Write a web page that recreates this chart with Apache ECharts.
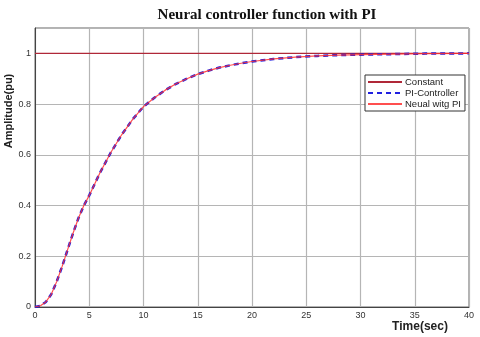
<!DOCTYPE html>
<html><head><meta charset="utf-8">
<script src="https://cdn.jsdelivr.net/npm/echarts@6/dist/echarts.min.js"></script>
<style>html,body{margin:0;padding:0;background:#fff}#c{width:480px;height:337px}</style>
</head><body><div id="c"></div>
<script>
var timeSec = [0,0.5,1,1.5,2,2.5,3,3.5,4,4.5,5,6,7,8,9,10,11,12,13,14,15,16,17,18,19,20,22,24,26,28,30,33,36,40];
var piController = [0,0.005,0.02,0.05,0.1,0.16,0.225,0.29,0.35,0.4,0.44,0.53,0.61,0.68,0.74,0.79,0.825,0.855,0.88,0.9,0.918,0.932,0.944,0.953,0.961,0.968,0.978,0.985,0.99,0.993,0.995,0.997,0.999,1.0];
var neuralPI = [0,0.005,0.02,0.05,0.1,0.16,0.225,0.29,0.35,0.4,0.44,0.53,0.61,0.68,0.74,0.79,0.825,0.855,0.88,0.9,0.918,0.932,0.944,0.953,0.961,0.968,0.978,0.985,0.99,0.993,0.995,0.997,0.999,1.0];
var constantT = [0,40];
var constantV = [1,1];
var xTicks = [0,5,10,15,20,25,30,35,40];
var yTicks = [0,0.2,0.4,0.6,0.8,1];

function pairs(a,b){return a.map(function(v,i){return [v,b[i]];});}
var chart = echarts.init(document.getElementById('c'));
chart.setOption({
  animation:false,
  title:{text:'Neural controller function with PI',left:262,top:3,textAlign:'center',
    textStyle:{fontFamily:'Liberation Serif',fontWeight:'bold',fontSize:15,color:'#111'}},
  grid:{left:35,right:11,top:28,bottom:30,show:true,borderColor:'#666',borderWidth:1,outerBoundsMode:'none',containLabel:false},
  graphic:[
    {type:'text',x:420,y:327,style:{text:'Time(sec)',fontFamily:'Liberation Sans',fontWeight:'bold',fontSize:12,fill:'#222',align:'center',verticalAlign:'middle'}},
    {type:'text',x:9,y:111,rotation:Math.PI/2,style:{text:'Amplitude(pu)',fontFamily:'Liberation Sans',fontWeight:'bold',fontSize:11,fill:'#222',align:'center',verticalAlign:'middle'}}
  ],
  legend:{orient:'vertical',left:365,top:75,backgroundColor:'#fff',borderColor:'#333',borderWidth:1,
    padding:[2,4,2,2],itemGap:1,itemWidth:34,itemHeight:8,
    itemStyle:{color:'rgba(0,0,0,0)',borderColor:'rgba(0,0,0,0)',borderWidth:0},
    textStyle:{fontFamily:'Liberation Sans',fontSize:9.5,color:'#222',padding:[0,0,0,-2]},
    data:['Constant','PI-Controller','Neual witg PI']},
  xAxis:{type:'value',min:0,max:40,interval:5,
    axisLine:{lineStyle:{color:'#444',width:1}},axisTick:{show:false},
    axisLabel:{fontFamily:'Liberation Sans',fontSize:9,color:'#333',margin:4,
      formatter:function(v){return xTicks.indexOf(v)>=0?String(v):'';}},
    splitLine:{show:true,lineStyle:{color:'#b5b5b5',width:1.2}}},
  yAxis:{type:'value',min:0,max:1.1,interval:0.2,
    axisLine:{lineStyle:{color:'#444',width:1}},axisTick:{show:false},
    axisLabel:{fontFamily:'Liberation Sans',fontSize:9,color:'#333',margin:4,showMaxLabel:false,
      formatter:function(v){var r=Math.round(v*10)/10;return yTicks.indexOf(r)>=0?String(r):'';}},
    splitLine:{show:true,lineStyle:{color:'#b5b5b5',width:1.2}}},
  series:[
    {name:'Constant',type:'line',data:pairs(constantT,constantV),showSymbol:false,symbol:'none',
      lineStyle:{color:'#b02838',width:1.2},itemStyle:{color:'#b02838'},z:3},
    {name:'PI-Controller',type:'line',data:pairs(timeSec,piController),showSymbol:false,symbol:'none',
      lineStyle:{color:'#2020e0',width:2.5,type:[5,4]},itemStyle:{color:'#2020e0'},z:4},
    {name:'Neual witg PI',type:'line',data:pairs(timeSec,neuralPI),showSymbol:false,symbol:'none',
      lineStyle:{color:'#ff3030',width:1.2,opacity:0.85},itemStyle:{color:'#ff3030'},z:5}
  ]
});
</script></body></html>
